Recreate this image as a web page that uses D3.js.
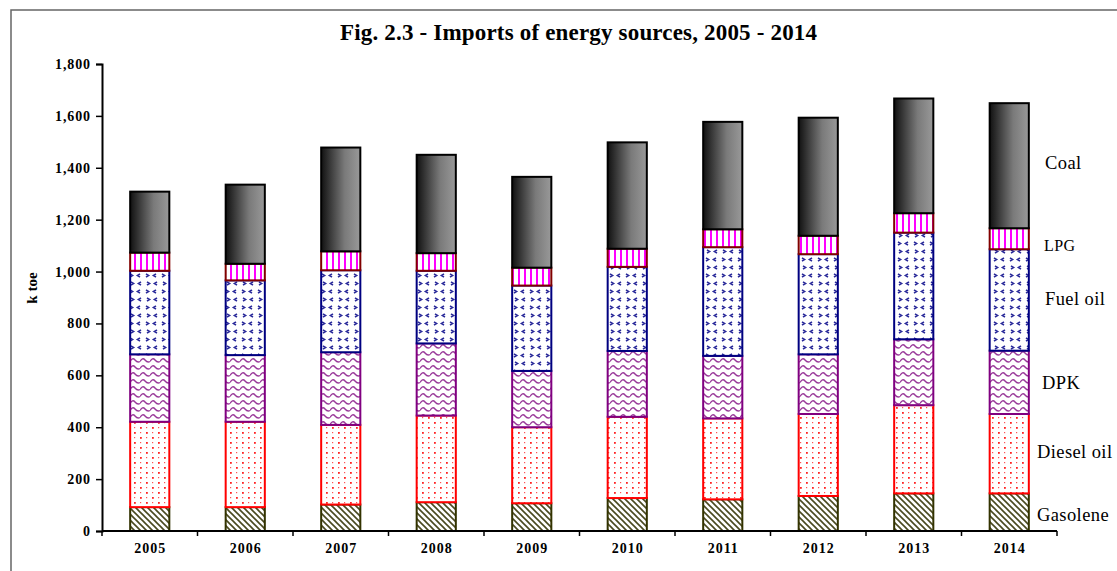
<!DOCTYPE html>
<html><head><meta charset="utf-8">
<script src="https://cdn.jsdelivr.net/npm/d3@7"></script>
<style>body{margin:0;background:#fff} svg{display:block}</style>
</head><body><svg id="c" width="1117" height="571"></svg>
<script>
const years = ["2005","2006","2007","2008","2009","2010","2011","2012","2013","2014"];
const gasolene = [92, 92, 102, 111, 107, 127, 122, 135, 145, 145];
const dieselOil = [329, 329, 307, 334, 293, 313, 312, 316, 340, 306];
const dpk = [260, 257, 280, 278, 217, 254, 241, 230, 254, 244];
const fuelOil = [322, 288, 316, 280, 329, 324, 419, 386, 411, 391];
const lpg = [70, 64, 73, 68, 69, 70, 69, 71, 75, 81];
const coal = [235, 305, 400, 379, 350, 410, 414, 455, 442, 482];
const seriesNames = ["Gasolene","Diesel oil","DPK","Fuel oil","LPG","Coal"];
const yTicks = [0,200,400,600,800,1000,1200,1400,1600,1800];

const seriesValues = [gasolene, dieselOil, dpk, fuelOil, lpg, coal];
const rows = years.map((y,i)=>{const r={year:y}; seriesNames.forEach((s,k)=>r[s]=seriesValues[k][i]); return r;});

const svg = d3.select("#c");
const FONT = "'Liberation Serif','Times New Roman',serif";

// frame
svg.append("rect").attr("x",11).attr("y",10).attr("width",1200).attr("height",700)
  .attr("fill","none").attr("stroke","#666").attr("stroke-width",1.5);

const defs = svg.append("defs");
// Coal gradient
const g = defs.append("linearGradient").attr("id","coalG").attr("x1","0%").attr("x2","100%").attr("y1","0%").attr("y2","0%");
g.append("stop").attr("offset","0%").attr("stop-color","#111");
g.append("stop").attr("offset","60%").attr("stop-color","#7a7a7a");
g.append("stop").attr("offset","100%").attr("stop-color","#999");

// Gasolene diagonal
let p = defs.append("pattern").attr("id","pGas").attr("patternUnits","userSpaceOnUse").attr("width",6).attr("height",6);
p.append("rect").attr("width",6).attr("height",6).attr("fill","#fff");
p.append("path").attr("d","M-1,-1 L7,7 M-4,2 L2,8 M2,-4 L8,2").attr("stroke","#4a4a20").attr("stroke-width",1.6);

// Diesel dots
p = defs.append("pattern").attr("id","pDie").attr("patternUnits","userSpaceOnUse").attr("width",12).attr("height",10);
p.append("rect").attr("width",12).attr("height",10).attr("fill","#fff");
[[2,2],[8,7]].forEach(([cx,cy])=>p.append("rect").attr("x",cx).attr("y",cy).attr("width",1.8).attr("height",1.8).attr("fill","#f22"));
[[8,2],[2,7]].forEach(([cx,cy])=>p.append("rect").attr("x",cx).attr("y",cy).attr("width",1.2).attr("height",1.2).attr("fill","#f55"));

// DPK waves
p = defs.append("pattern").attr("id","pDpk").attr("patternUnits","userSpaceOnUse").attr("width",10).attr("height",7);
p.append("rect").attr("width",10).attr("height",7).attr("fill","#fff");
p.append("path").attr("d","M0,4.5 Q2.5,0 5,3 T10,4.5").attr("fill","none").attr("stroke","#9a3a9a").attr("stroke-width",1.4);

// Fuel oil chevrons
p = defs.append("pattern").attr("id","pFuel").attr("patternUnits","userSpaceOnUse").attr("width",16).attr("height",16);
p.append("rect").attr("width",16).attr("height",16).attr("fill","#fff");
p.append("path").attr("d","M2,2 L4.5,3.5 L2,5 M13,10 L10.5,11.5 L13,13 M12,2 L9.5,3.5 L12,5 M3,10 L5.5,11.5 L3,13").attr("fill","none").attr("stroke","#2a2a9a").attr("stroke-width",1.6);

// LPG vertical lines
p = defs.append("pattern").attr("id","pLpg").attr("patternUnits","userSpaceOnUse").attr("width",6).attr("height",6);
p.append("rect").attr("width",6).attr("height",6).attr("fill","#fff");
p.append("rect").attr("x",2).attr("width",2).attr("height",6).attr("fill","#f0f");

const fills = {"Gasolene":"url(#pGas)","Diesel oil":"url(#pDie)","DPK":"url(#pDpk)","Fuel oil":"url(#pFuel)","LPG":"url(#pLpg)","Coal":"url(#coalG)"};
const strokes = {"Gasolene":"#333300","Diesel oil":"#ff0000","DPK":"#800080","Fuel oil":"#000080","LPG":"#800000","Coal":"#000"};

const x = d3.scaleBand().domain(years).range([102,1057]).paddingInner(0.59).paddingOuter(0.295);
const y = d3.scaleLinear().domain([0,1800]).range([531,64]);

const stacked = d3.stack().keys(seriesNames)(rows);

const layers = svg.append("g").selectAll("g").data(stacked).join("g");
layers.selectAll("rect").data(d=>d.map(v=>({key:d.key,v}))).join("rect")
  .attr("x",d=>x(d.v.data.year))
  .attr("width",x.bandwidth())
  .attr("y",d=>y(d.v[1]))
  .attr("height",d=>y(d.v[0])-y(d.v[1]))
  .attr("fill",d=>fills[d.key])
  .attr("stroke",d=>strokes[d.key])
  .attr("stroke-width",2);

// Y axis
const ya = svg.append("g").attr("transform","translate(102,0)")
  .call(d3.axisLeft(y).tickValues(yTicks).tickFormat(d3.format(",")).tickSize(6).tickPadding(5));
ya.select(".domain").attr("stroke","#000").attr("stroke-width",2);
ya.selectAll(".tick line").attr("stroke","#000").attr("stroke-width",1.5);
ya.selectAll("text").attr("font-family",FONT).attr("font-weight","bold").attr("font-size",14)
  .attr("letter-spacing","0.9px").attr("fill","#000");

// X axis
const xa = svg.append("g").attr("transform","translate(0,531)");
xa.append("line").attr("x1",x.range()[0]).attr("x2",x.range()[1]).attr("stroke","#000").attr("stroke-width",2);
const bounds = d3.range(years.length+1).map(i=>x.range()[0]+i*x.step());
xa.selectAll(".bt").data(bounds).join("line").attr("class","bt")
  .attr("x1",d=>d).attr("x2",d=>d).attr("y1",0).attr("y2",5).attr("stroke","#000").attr("stroke-width",1.5);
xa.selectAll(".xl").data(years).join("text").attr("class","xl")
  .attr("x",d=>x(d)+x.bandwidth()/2+0.5).attr("y",22).attr("text-anchor","middle")
  .attr("font-family",FONT).attr("font-weight","bold").attr("font-size",14)
  .attr("letter-spacing","1px").text(d=>d);

// Y title
svg.append("text").attr("transform","translate(37,288) rotate(-90)").attr("text-anchor","middle")
  .attr("font-family",FONT).attr("font-weight","bold").attr("font-size",15).text("k toe");

// Title
svg.append("text").attr("x",340).attr("y",40)
  .attr("font-family",FONT).attr("font-weight","bold").attr("font-size",23)
  .attr("textLength",477).attr("lengthAdjust","spacing")
  .text("Fig. 2.3 - Imports of energy sources, 2005 - 2014");

// Series labels at last bar segments
const labelX = {"Gasolene":1037,"Diesel oil":1037,"DPK":1042,"Fuel oil":1045,"LPG":1044,"Coal":1045};
const labelDy = {"Gasolene":2,"Diesel oil":-2,"DPK":0,"Fuel oil":-1,"LPG":7,"Coal":-3};
const labelSize = {"Gasolene":18.5,"Diesel oil":18.5,"DPK":18.5,"Fuel oil":18.5,"LPG":16,"Coal":18.5};
const last = years.length-1;
svg.append("g").selectAll("text").data(stacked).join("text")
  .attr("x",d=>labelX[d.key])
  .attr("y",d=>y((d[last][0]+d[last][1])/2)+labelDy[d.key])
  .attr("dy","0.35em")
  .attr("font-family",FONT).attr("font-size",d=>labelSize[d.key]).attr("fill","#000")
  .attr("letter-spacing","0.4px")
  .text(d=>d.key);
</script></body></html>
